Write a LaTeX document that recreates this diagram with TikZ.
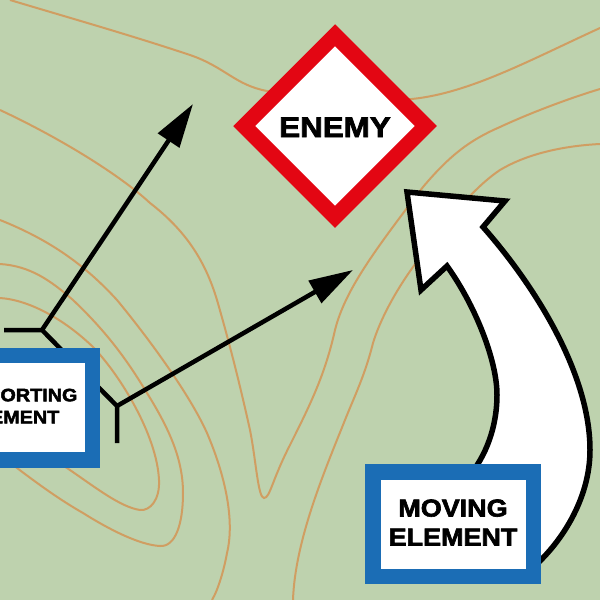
\documentclass[tikz,border=0pt]{standalone}
\usepackage{fontspec}
\usetikzlibrary{shapes.geometric,arrows.meta}
\newfontfamily\lab[BoldFeatures={FakeBold=2.6,FakeStretch=1.1}]{Liberation Sans}
\definecolor{terrain}{HTML}{BED2AE}
\definecolor{contourc}{HTML}{D09E62}
\definecolor{bluec}{HTML}{1B6DB5}
\definecolor{redc}{HTML}{E30613}
\tikzset{
 contourline/.style={draw=contourc,line width=2pt},
 unitbox/.style={draw=bluec,fill=white,line width=15.5pt,minimum width=160.5pt,minimum height=104.5pt,inner sep=0pt,align=center,text depth=3pt,font=\lab\bfseries\fontsize{18}{22}\selectfont},
 enemybox/.style={shape=diamond,aspect=1,draw=redc,fill=white,line width=15.5pt,minimum width=188pt,minimum height=188pt,inner sep=0pt,text height=22pt,font=\lab\bfseries\fontsize{28.5}{30}\selectfont},
 axis/.style={draw=black,line width=4.5pt},
 fireline/.style={axis,-{Triangle[length=44pt,width=25pt]}},
 maneuver/.style={draw=black,fill=white,line width=5.5pt,miter limit=10}
}
\begin{document}
\begin{tikzpicture}[x=1pt,y=-1pt]
\useasboundingbox (0,0) rectangle (600,600);
\clip (0,0) rectangle (600,600);
\fill[terrain] (0,0) rectangle (600,600);
% contours
\draw[contourline] (10,0) .. controls (70,18) and (130,35) .. (190,55) .. controls (225,67) and (235,85) .. (267,91) .. controls (300,97) and (380,102) .. (412,99) .. controls (470,93) and (530,60) .. (600,28);
\draw[contourline] (0,110) .. controls (60,138) and (120,175) .. (150,203) .. controls (185,230) and (205,260) .. (217,300) .. controls (230,345) and (240,385) .. (250,430) .. controls (256,460) and (258,498) .. (264,498) .. controls (270,498) and (272,480) .. (290,445) .. controls (310,405) and (325,375) .. (335,330) .. controls (345,290) and (375,250) .. (423,187) .. controls (450,155) and (470,140) .. (500,127) .. controls (530,113) and (570,98) .. (600,89);
\draw[contourline] (0,220) .. controls (50,240) and (85,265) .. (117,300) .. controls (150,340) and (190,395) .. (207,433) .. controls (225,475) and (235,520) .. (227,553) .. controls (224,570) and (218,590) .. (212,600);
\draw[contourline] (0,264) .. controls (30,266) and (50,280) .. (73,300) .. controls (110,335) and (130,365) .. (147,393) .. controls (170,430) and (183,460) .. (183,493) .. controls (183,525) and (175,547) .. (160,546) .. controls (140,545) and (110,530) .. (83,513) .. controls (55,497) and (30,478) .. (0,455);
\draw[contourline] (0,298) .. controls (30,300) and (65,320) .. (93,347) .. controls (120,375) and (157,435) .. (159,480) .. controls (160,500) and (150,511) .. (140,510) .. controls (120,507) and (95,487) .. (67,468) -- (30,445);
\draw[contourline] (600,144) .. controls (560,146) and (525,155) .. (500,170) .. controls (470,190) and (440,230) .. (413,267) .. controls (395,292) and (380,320) .. (373,343) .. controls (365,375) and (355,395) .. (345,420) .. controls (325,470) and (295,540) .. (293,600);
% moving arrow
\draw[maneuver] (407,192) -- (505,201) -- (483,227)
  .. controls (530,280) and (590,370) .. (590,450)
  .. controls (590,500) and (560,545) .. (530,570)
  -- (470,475)
  .. controls (490,450) and (497,420) .. (497,395)
  .. controls (497,360) and (475,305) .. (447,266)
  -- (421,290) -- cycle;
% support axes
\coordinate (tipa) at (193,104);
\coordinate (tipb) at (353,270);
\coordinate (stema) at (4,330);
\coordinate (stemb) at (117,443);
\coordinate (ja) at (42,330);
\coordinate (jb) at (117,406);
\draw[axis] (stema) -- (ja) -- (jb) -- (stemb);
\draw[fireline] (ja) -- (tipa);
\draw[fireline] (jb) -- (tipb);
% nodes
\node[enemybox] (enemy) at (335,126) {ENEMY};
\node[unitbox] (support) at (12,407.5) {SUPPORTING\\ELEMENT};
\node[unitbox,font=\lab\bfseries\fontsize{24.5}{29}\selectfont] (moving) at (453,524) {MOVING\\ELEMENT};
\end{tikzpicture}
\end{document}
